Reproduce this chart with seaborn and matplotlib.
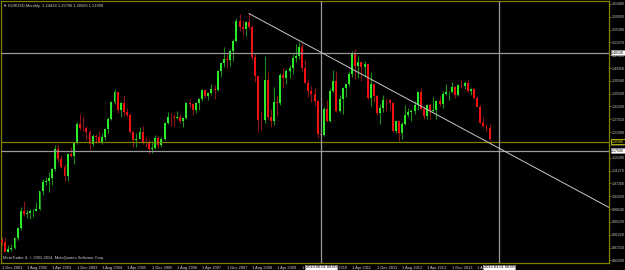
import numpy as np
import pandas as pd
import matplotlib
matplotlib.use("Agg")
import matplotlib.pyplot as plt
import seaborn as sns

# ---------------- data (EURUSD monthly, Dec 2001 .. Dec 2014) ----------------
start_month = "2001-12-01"
opens = [0.895,
    0.890,0.860,0.868,0.872,0.901,0.933,0.987,0.978,0.981,0.986,0.988,0.992,
    1.049,1.077,1.079,1.091,1.117,1.180,1.148,1.123,1.097,1.165,1.159,1.198,
    1.259,1.247,1.245,1.232,1.197,1.220,1.217,1.202,1.218,1.243,1.275,1.327,
    1.357,1.303,1.324,1.296,1.287,1.233,1.210,1.213,1.234,1.203,1.199,1.179,
    1.184,1.215,1.193,1.212,1.262,1.281,1.279,1.277,1.281,1.268,1.276,1.325,
    1.320,1.302,1.323,1.336,1.365,1.345,1.354,1.369,1.366,1.425,1.448,1.463,
    1.460,1.486,1.518,1.579,1.561,1.555,1.576,1.561,1.467,1.409,1.272,1.270,
    1.397,1.280,1.267,1.328,1.324,1.413,1.403,1.425,1.433,1.464,1.472,1.499,
    1.432,1.387,1.362,1.351,1.330,1.227,1.223,1.305,1.269,1.363,1.392,1.299,
    1.338,1.370,1.382,1.416,1.481,1.440,1.451,1.438,1.446,1.339,1.384,1.345,
    1.294,1.309,1.334,1.332,1.324,1.236,1.267,1.230,1.258,1.286,1.296,1.299,
    1.319,1.358,1.306,1.282,1.317,1.300,1.301,1.330,1.322,1.353,1.358,1.359,
    1.375,1.349,1.380,1.377,1.387,1.363,1.369,1.339,1.313,1.263,1.252,1.245]
highs = [0.905,
    0.904,0.879,0.885,0.905,0.938,0.998,1.019,0.991,0.994,0.992,1.014,1.050,
    1.087,1.094,1.108,1.120,1.193,1.193,1.161,1.132,1.167,1.186,1.200,1.264,
    1.290,1.285,1.252,1.240,1.227,1.228,1.238,1.229,1.244,1.281,1.331,1.367,
    1.360,1.327,1.349,1.310,1.294,1.236,1.229,1.248,1.251,1.217,1.213,1.206,
    1.224,1.220,1.219,1.264,1.296,1.292,1.290,1.299,1.291,1.280,1.327,1.336,
    1.324,1.327,1.341,1.368,1.368,1.357,1.385,1.380,1.427,1.452,1.498,1.476,
    1.493,1.525,1.591,1.602,1.582,1.581,1.604,1.568,1.479,1.413,1.300,1.472,
    1.422,1.304,1.374,1.348,1.417,1.434,1.431,1.443,1.478,1.508,1.514,1.512,
    1.458,1.398,1.377,1.370,1.333,1.239,1.311,1.333,1.371,1.426,1.425,1.348,
    1.374,1.385,1.425,1.488,1.494,1.470,1.453,1.455,1.449,1.420,1.385,1.349,
    1.322,1.349,1.338,1.338,1.327,1.270,1.272,1.264,1.317,1.309,1.305,1.331,
    1.362,1.371,1.314,1.321,1.324,1.342,1.334,1.345,1.361,1.382,1.362,1.389,
    1.377,1.382,1.397,1.392,1.399,1.371,1.372,1.345,1.319,1.284,1.260,1.257]
lows = [0.877,
    0.857,0.857,0.862,0.867,0.896,0.927,0.971,0.966,0.963,0.969,0.988,0.991,
    1.036,1.068,1.047,1.067,1.111,1.141,1.120,1.080,1.080,1.156,1.135,1.196,
    1.239,1.238,1.208,1.176,1.190,1.200,1.201,1.196,1.207,1.230,1.271,1.322,
    1.293,1.280,1.284,1.279,1.229,1.187,1.187,1.211,1.196,1.188,1.164,1.168,
    1.180,1.183,1.187,1.207,1.258,1.252,1.253,1.274,1.263,1.249,1.275,1.310,
    1.286,1.293,1.303,1.330,1.340,1.332,1.349,1.337,1.362,1.405,1.437,1.433,
    1.440,1.454,1.514,1.549,1.536,1.533,1.555,1.459,1.390,1.233,1.241,1.262,
    1.275,1.250,1.254,1.284,1.318,1.371,1.384,1.401,1.414,1.451,1.462,1.423,
    1.386,1.343,1.327,1.314,1.214,1.188,1.221,1.266,1.264,1.358,1.296,1.297,
    1.291,1.344,1.378,1.406,1.397,1.401,1.392,1.406,1.337,1.316,1.326,1.287,
    1.260,1.297,1.299,1.301,1.233,1.229,1.204,1.213,1.256,1.280,1.269,1.291,
    1.303,1.303,1.275,1.275,1.274,1.295,1.275,1.315,1.309,1.348,1.333,1.354,
    1.340,1.345,1.370,1.368,1.360,1.350,1.336,1.311,1.261,1.248,1.236,1.206]
closes = [0.890,
    0.860,0.868,0.872,0.901,0.933,0.987,0.978,0.981,0.986,0.988,0.992,1.049,
    1.077,1.079,1.091,1.117,1.180,1.148,1.123,1.097,1.165,1.159,1.198,1.259,
    1.247,1.245,1.232,1.197,1.220,1.217,1.202,1.218,1.243,1.275,1.327,1.357,
    1.303,1.324,1.296,1.287,1.233,1.210,1.213,1.234,1.203,1.199,1.179,1.184,
    1.215,1.193,1.212,1.262,1.281,1.279,1.277,1.281,1.268,1.276,1.325,1.320,
    1.302,1.323,1.336,1.365,1.345,1.354,1.369,1.366,1.425,1.448,1.463,1.460,
    1.486,1.518,1.579,1.561,1.555,1.576,1.561,1.467,1.409,1.272,1.270,1.397,
    1.280,1.267,1.328,1.324,1.413,1.403,1.425,1.433,1.464,1.472,1.499,1.432,
    1.387,1.362,1.351,1.330,1.227,1.223,1.305,1.269,1.363,1.392,1.299,1.338,
    1.370,1.382,1.416,1.481,1.440,1.451,1.438,1.446,1.339,1.384,1.345,1.294,
    1.309,1.334,1.332,1.324,1.236,1.267,1.230,1.258,1.286,1.296,1.299,1.319,
    1.358,1.306,1.282,1.317,1.300,1.301,1.330,1.322,1.353,1.358,1.359,1.375,
    1.349,1.380,1.377,1.387,1.363,1.369,1.339,1.313,1.263,1.252,1.245,1.211]

# trend line anchors (bar index, price) and horizontal / vertical line objects
trend_x = [79, 156]
trend_y = [1.6038, 1.1987]
hline_white = [1.4813, 1.1750]
hline_olive = [1.2038]
vline_bars = [102, 159]
vline_labels = ["2010.06.01 00:00", "2015.03.01 00:00"]

price_ticks = [1.63400, 1.59390, 1.55380, 1.51370, 1.47360, 1.43350, 1.39340,
               1.35330, 1.31320, 1.27310, 1.23300, 1.19290, 1.15280, 1.11270,
               1.07260, 1.03250, 0.99240, 0.95230, 0.91220, 0.87210, 0.83200]

title = "EURUSD,Monthly  1.24418 1.25700 1.20566 1.21099"
copyright_txt = "MetaTrader 4, \u00a9 2001-2014, MetaQuotes Software Corp."

# ---------------- figure ----------------
sns.set_theme(style="dark", rc={"axes.facecolor": "black", "figure.facecolor": "black"})
plt.rcParams["font.family"] = ["Liberation Sans", "DejaVu Sans"]

dates = pd.date_range(start_month, periods=len(closes), freq="MS")
df = pd.DataFrame({"i": np.arange(len(closes)), "date": dates,
                   "open": opens, "high": highs, "low": lows, "close": closes})
df["up"] = df["close"] >= df["open"]

W, H = 625, 270
fig = plt.figure(figsize=(W / 100, H / 100), dpi=100)
ax = fig.add_axes([1 / W, 7 / H, 608 / W, 262 / H])
ax.set_facecolor("black")

OLIVE = "#808000"
GREEN, GREEN_W = "#2bea2b", "#1d8c1d"
RED, RED_W = "#f01010", "#8c1515"

# wicks
for up, wc in ((True, GREEN_W), (False, RED_W)):
    d = df[df["up"] == up]
    ax.vlines(d["i"], d["low"], d["high"], color=wc, linewidth=0.8, zorder=2)
# bodies
for up, bc in ((True, GREEN), (False, RED)):
    d = df[df["up"] == up]
    h = (d["close"] - d["open"]).where((d["close"] - d["open"]).abs() > 0.0015,
                                        0.0015 * np.sign(d["close"] - d["open"] + 1e-9))
    ax.bar(d["i"], h, bottom=d["open"], width=0.62, color=bc, linewidth=0, zorder=3)

# horizontal lines
for p in hline_white:
    ax.axhline(p, color="#9a9a9a", linewidth=0.9, zorder=4)
for p in hline_olive:
    ax.axhline(p, color=OLIVE, linewidth=0.9, zorder=4)
# vertical lines
for b in vline_bars:
    ax.axvline(b, color="#9a9a9a", linewidth=0.9, zorder=4)

# trend line (ray to the right)
slope = (trend_y[1] - trend_y[0]) / (trend_x[1] - trend_x[0])
ray = pd.DataFrame({"x": [trend_x[0], 210], "y": [trend_y[0], trend_y[0] + slope * (210 - trend_x[0])]})
sns.lineplot(data=ray, x="x", y="y", ax=ax, color="#c8c8c8", linewidth=0.7, zorder=5)

ax.set_xlim(-0.32, 194.2)
ax.set_ylim(0.8241, 1.6429)
ax.set_xlabel("")
ax.set_ylabel("")
ax.grid(False)
for s in ax.spines.values():
    s.set_color(OLIVE)
    s.set_linewidth(0.9)

FS = 2.9
FSY = 2.55
TXT = "#d0d0d0"
# x ticks: every 8 bars, up to the last bar
xt = df["i"][::8]
ax.set_xticks(xt)
ax.set_xticklabels([f"{d.day} {d.strftime('%b %Y')}" for d in df["date"][::8]],
                   fontsize=FS, color=TXT)
for lab in ax.get_xticklabels():
    lab.set_horizontalalignment("left")
ax.tick_params(axis="x", direction="out", length=2.0, width=0.6, color=OLIVE, pad=0.2)

# y ticks on the right
ax.yaxis.tick_right()
ax.set_yticks(price_ticks)
ax.set_yticklabels([f"{v:.5f}" for v in price_ticks], fontsize=FSY, color=TXT)
ax.tick_params(axis="y", direction="out", length=1.6, width=0.6, color=OLIVE, pad=0.5)

# price tags for horizontal lines
for p in hline_white:
    ax.annotate(f"{p:.5f}", xy=(1.0, p), xycoords=("axes fraction", "data"),
                xytext=(1.6, 0), textcoords="offset points", fontsize=FSY, color="black",
                va="center", ha="left", annotation_clip=False, zorder=10,
                bbox=dict(boxstyle="square,pad=0.1", fc="white", ec="#9a9a9a", lw=0.5))
for p in hline_olive:
    ax.annotate(f"{p:.5f}", xy=(1.0, p), xycoords=("axes fraction", "data"),
                xytext=(1.6, 0), textcoords="offset points", fontsize=FSY, color="#e8e800",
                va="center", ha="left", annotation_clip=False, zorder=10,
                bbox=dict(boxstyle="square,pad=0.1", fc="black", ec="#c8c800", lw=0.6))
# date tags for vertical lines
for b, lab in zip(vline_bars, vline_labels):
    ax.annotate(lab, xy=(b, 0.0), xycoords=("data", "axes fraction"),
                xytext=(0, -2.9), textcoords="offset points", fontsize=FS, color="black",
                va="center", ha="center", annotation_clip=False, zorder=10,
                bbox=dict(boxstyle="square,pad=0.12", fc="white", ec="#9a9a9a", lw=0.5))

# title and copyright
ax.text(0.004, 0.988, "\u25bc " + title, transform=ax.transAxes, fontsize=FS,
        color=TXT, va="top", ha="left")
ax.text(0.004, 0.012, copyright_txt, transform=ax.transAxes, fontsize=FS,
        color=TXT, va="bottom", ha="left")

fig.savefig("out.png", dpi=100, facecolor="black")
